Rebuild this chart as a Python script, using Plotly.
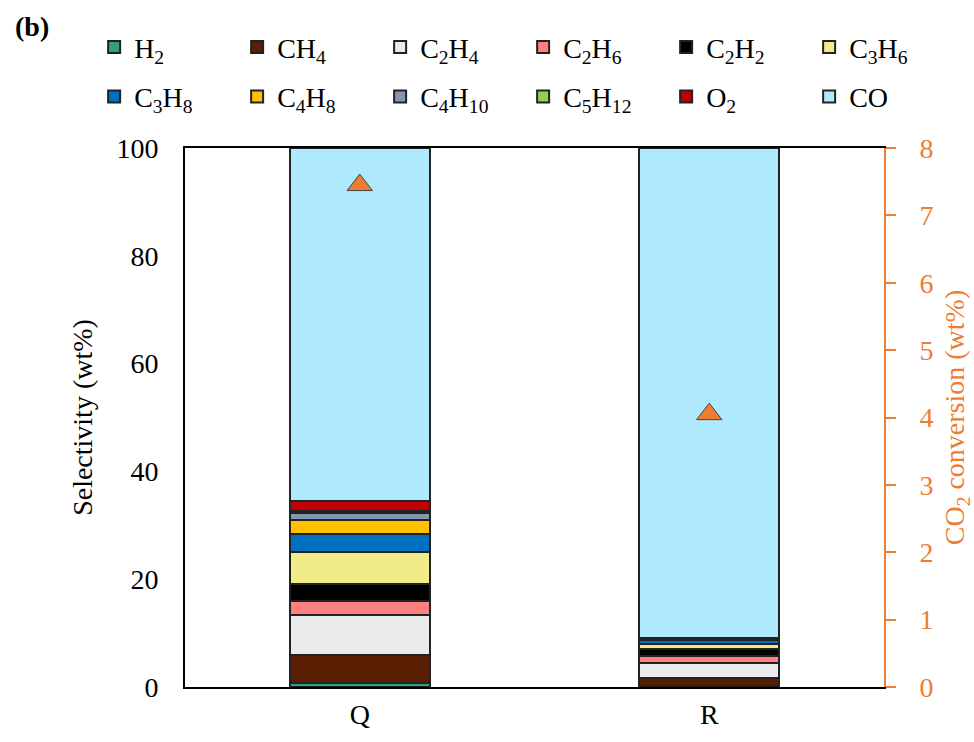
import plotly.graph_objects as go

categories = ["Q", "R"]
species = ["H<sub>2</sub>", "CH<sub>4</sub>", "C<sub>2</sub>H<sub>4</sub>", "C<sub>2</sub>H<sub>6</sub>",
           "C<sub>2</sub>H<sub>2</sub>", "C<sub>3</sub>H<sub>6</sub>", "C<sub>3</sub>H<sub>8</sub>",
           "C<sub>4</sub>H<sub>8</sub>", "C<sub>4</sub>H<sub>10</sub>", "C<sub>5</sub>H<sub>12</sub>",
           "O<sub>2</sub>", "CO"]
sel_Q = [0.8, 5.1, 7.5, 2.6, 3.2, 5.9, 3.3, 2.6, 1.3, 0.3, 2.0, 65.4]
sel_R = [0.2, 1.5, 2.8, 1.2, 1.3, 0.9, 0.8, 0.1, 0.1, 0.0, 0.1, 91.0]
conversion = [7.45, 4.05]
colors = ["#31A07F", "#5A1E02", "#EBEBEB", "#FF8080", "#000000", "#F2EC88",
          "#0070C0", "#FFC000", "#8496B0", "#92D050", "#C00000", "#AFE9FD"]

FONT = "Liberation Serif, Times New Roman, serif"
ORANGE = "#ED7D31"
FS = 28

fig = go.Figure()
for i, name in enumerate(species):
    fig.add_trace(go.Bar(
        x=categories, y=[sel_Q[i], sel_R[i]], name=name,
        marker=dict(color=colors[i], line=dict(color="#222222", width=2)),
        legend="legend" if i < 6 else "legend2",
    ))

fig.add_trace(go.Scatter(
    x=categories, y=conversion, mode="markers", yaxis="y2", showlegend=False,
    marker=dict(symbol="triangle-up", size=22, color=ORANGE,
                line=dict(color="#444444", width=1)),
))

legend_common = dict(orientation="h", xanchor="left", yanchor="middle",
                     font=dict(family=FONT, size=FS, color="black"),
                     entrywidth=98, entrywidthmode="pixels",
                     bgcolor="rgba(0,0,0,0)", traceorder="normal")

fig.update_layout(
    width=974, height=742,
    margin=dict(l=185, r=90, t=148, b=55),
    paper_bgcolor="white", plot_bgcolor="white",
    barmode="stack", bargap=0.6,
    font=dict(family=FONT, size=FS, color="black"),
    legend=dict(x=-0.13, y=1.187, **legend_common),
    legend2=dict(x=-0.13, y=1.095, **legend_common),
    xaxis=dict(showline=True, linecolor="black", linewidth=2, mirror=True,
               ticks="", tickfont=dict(size=FS), showgrid=False,
               ticklabelstandoff=1, automargin=False),
    yaxis=dict(range=[0, 100], dtick=20, showline=True, linecolor="black", linewidth=2,
               ticks="", showgrid=False, zeroline=False, ticklabelstandoff=19,
               automargin=False,
               title=dict(text="Selectivity (wt%)", font=dict(size=FS), standoff=16)),
    yaxis2=dict(range=[0, 8], dtick=1, overlaying="y", side="right",
                showline=True, linecolor=ORANGE, linewidth=2,
                ticks="outside", ticklen=10, tickcolor=ORANGE, tickwidth=2,
                tickfont=dict(color=ORANGE, size=FS), showgrid=False, zeroline=False,
                ticklabelstandoff=18, automargin=False,
                title=dict(text="CO<sub>2</sub> conversion (wt%)",
                           font=dict(color=ORANGE, size=FS), standoff=19)),
)
fig.add_annotation(text="<b>(b)</b>", xref="paper", yref="paper",
                   x=(13 - 185) / 699, y=(687 - 27) / 539,
                   xanchor="left", yanchor="middle", showarrow=False,
                   font=dict(family=FONT, size=28, color="black"))

fig.write_html("out.html")
